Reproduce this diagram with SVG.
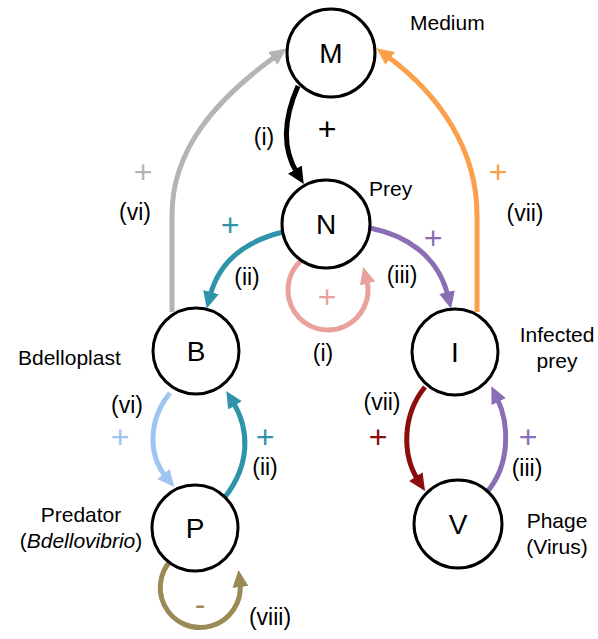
<svg xmlns="http://www.w3.org/2000/svg" width="598" height="639" viewBox="0 0 598 639">
<style>
.node circle{fill:#fff;stroke:#000;stroke-width:3}
.node text{font-family:"Liberation Sans",Arial,sans-serif;font-size:28px;text-anchor:middle;fill:#000}
.lbl{font-family:"Liberation Sans",Arial,sans-serif;font-size:21px;fill:#000}
.el{font-family:"Liberation Sans",Arial,sans-serif;font-size:23px;text-anchor:middle;fill:#000}
.pl{font-family:"Liberation Sans",Arial,sans-serif;font-size:32px;text-anchor:middle}
.c{fill:none;stroke-width:5}
</style>
<defs>
<marker id="a-black" markerUnits="userSpaceOnUse" markerWidth="20" markerHeight="18" refX="4" refY="8" orient="auto"><path d="M0,0 L17,8 L0,16 z" fill="#000"/></marker>
<marker id="a-gray" markerUnits="userSpaceOnUse" markerWidth="20" markerHeight="18" refX="4" refY="8" orient="auto"><path d="M0,0 L17,8 L0,16 z" fill="#b4b4b4"/></marker>
<marker id="a-orange" markerUnits="userSpaceOnUse" markerWidth="20" markerHeight="18" refX="4" refY="8" orient="auto"><path d="M0,0 L17,8 L0,16 z" fill="#fba04a"/></marker>
<marker id="a-teal" markerUnits="userSpaceOnUse" markerWidth="20" markerHeight="18" refX="4" refY="8" orient="auto"><path d="M0,0 L17,8 L0,16 z" fill="#2f94a9"/></marker>
<marker id="a-purple" markerUnits="userSpaceOnUse" markerWidth="20" markerHeight="18" refX="4" refY="8" orient="auto"><path d="M0,0 L17,8 L0,16 z" fill="#8b6db5"/></marker>
<marker id="a-pink" markerUnits="userSpaceOnUse" markerWidth="20" markerHeight="18" refX="4" refY="8" orient="auto"><path d="M0,0 L17,8 L0,16 z" fill="#e9a19b"/></marker>
<marker id="a-lblue" markerUnits="userSpaceOnUse" markerWidth="20" markerHeight="18" refX="4" refY="8" orient="auto"><path d="M0,0 L17,8 L0,16 z" fill="#9ec5f0"/></marker>
<marker id="a-olive" markerUnits="userSpaceOnUse" markerWidth="20" markerHeight="18" refX="4" refY="8" orient="auto"><path d="M0,0 L17,8 L0,16 z" fill="#9a8a55"/></marker>
<marker id="a-red" markerUnits="userSpaceOnUse" markerWidth="20" markerHeight="18" refX="4" refY="8" orient="auto"><path d="M0,0 L17,8 L0,16 z" fill="#8c0d0d"/></marker>
</defs>
<rect width="598" height="639" fill="#fff"/>
<g id="connectors">
<path class="c" d="M298 86 C283 120 283 150 297 173" stroke="#000" stroke-width="6" marker-end="url(#a-black)"/>
<path class="c" d="M172 312 L172 215 C172 150 215 100 276 56" stroke="#b4b4b4" marker-end="url(#a-gray)"/>
<path class="c" d="M477 312 L477 215 C477 150 440 95 387 56" stroke="#fba04a" marker-end="url(#a-orange)"/>
<path class="c" d="M283 232 C250 240 220 258 210 296" stroke="#2f94a9" marker-end="url(#a-teal)"/>
<path class="c" d="M370 228 C405 235 438 255 448 296" stroke="#8b6db5" marker-end="url(#a-purple)"/>
<path class="c" d="M301.2 260.3 A40 40 0 1 0 366.6 279.6" stroke="#e9a19b" marker-end="url(#a-pink)"/>
<path class="c" d="M170 393 C148 420 148 455 166 477" stroke="#9ec5f0" marker-end="url(#a-lblue)"/>
<path class="c" d="M225 497 C250 465 250 430 233 402" stroke="#2f94a9" marker-end="url(#a-teal)"/>
<path class="c" d="M177 555 A40 40 0 1 0 240 583" stroke="#9a8a55" marker-end="url(#a-olive)"/>
<path class="c" d="M425 387 C402 415 402 455 418 480" stroke="#8c0d0d" marker-end="url(#a-red)"/>
<path class="c" d="M487 492 C510 465 510 425 497 398" stroke="#8b6db5" marker-end="url(#a-purple)"/>
</g>
<g id="node-M" class="node"><circle cx="331" cy="53" r="44"/><text x="331" y="63">M</text></g>
<g id="node-N" class="node"><circle cx="326" cy="224" r="44"/><text x="326" y="234">N</text></g>
<g id="node-B" class="node"><circle cx="196" cy="351" r="43"/><text x="196" y="361">B</text></g>
<g id="node-I" class="node"><circle cx="455" cy="352" r="43"/><text x="455" y="362">I</text></g>
<g id="node-P" class="node"><circle cx="195" cy="528" r="43"/><text x="195" y="538">P</text></g>
<g id="node-V" class="node"><circle cx="458" cy="524" r="44"/><text x="458" y="534">V</text></g>
<g id="labels">
<text class="lbl" x="410" y="30">Medium</text>
<text class="lbl" x="369" y="196">Prey</text>
<text class="lbl" x="18" y="365">Bdelloplast</text>
<text class="lbl" x="557" y="342" text-anchor="middle">Infected</text>
<text class="lbl" x="557" y="368" text-anchor="middle">prey</text>
<text class="lbl" x="557" y="528" text-anchor="middle">Phage</text>
<text class="lbl" x="557" y="554" text-anchor="middle">(Virus)</text>
<text class="lbl" x="81" y="522" text-anchor="middle">Predator</text>
<text class="lbl" x="81" y="548" text-anchor="middle">(<tspan font-style="italic">Bdellovibrio</tspan>)</text>
</g>
<g id="edge-labels">
<text class="el" x="264" y="145">(i)</text>
<text class="pl" x="327" y="140" fill="#000">+</text>
<text class="pl" x="143" y="183" fill="#b4b4b4">+</text>
<text class="el" x="135" y="220">(vi)</text>
<text class="pl" x="230" y="236" fill="#2f94a9">+</text>
<text class="el" x="247" y="285">(ii)</text>
<text class="pl" x="327" y="308" fill="#e9a19b">+</text>
<text class="el" x="323" y="361">(i)</text>
<text class="pl" x="433" y="249" fill="#8b6db5">+</text>
<text class="el" x="402" y="283">(iii)</text>
<text class="pl" x="498" y="183" fill="#fba04a">+</text>
<text class="el" x="525" y="221">(vii)</text>
<text class="el" x="127" y="413">(vi)</text>
<text class="pl" x="120" y="448" fill="#9ec5f0">+</text>
<text class="pl" x="265" y="448" fill="#2f94a9">+</text>
<text class="el" x="265" y="475">(ii)</text>
<text class="pl" x="200" y="615" fill="#9a8a55">-</text>
<text class="el" x="270" y="625">(viii)</text>
<text class="el" x="382" y="410">(vii)</text>
<text class="pl" x="378" y="448" fill="#8c0d0d">+</text>
<text class="pl" x="528" y="448" fill="#8b6db5">+</text>
<text class="el" x="527" y="476">(iii)</text>
</g>
</svg>
